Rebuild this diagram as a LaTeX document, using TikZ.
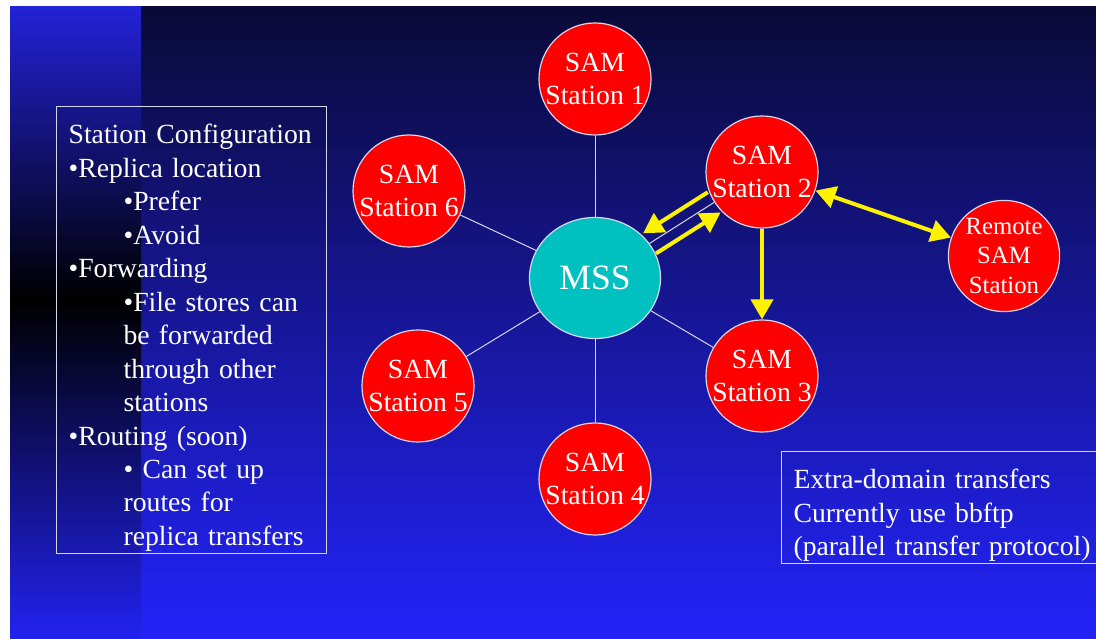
\documentclass[tikz,border=0pt]{standalone}
\usepackage{fontspec}
\setmainfont{Liberation Serif}
\usepackage{tikz}
\usetikzlibrary{arrows.meta}
\usetikzlibrary{shapes.geometric}

\definecolor{slidetop}{RGB}{10,10,56}
\definecolor{slidemid}{RGB}{22,22,140}
\definecolor{slidebot}{RGB}{35,35,250}
\definecolor{striptop}{RGB}{34,34,215}
\definecolor{stripbot}{RGB}{34,34,240}
\definecolor{mssteal}{RGB}{0,192,192}
\definecolor{rim}{RGB}{215,215,235}

\tikzset{
  station/.style={shape=circle,draw=rim,line width=0.03cm,fill=red,text=white,
    minimum size=2.8cm,inner sep=0pt,align=center,
    font=\fontsize{19.7pt}{23.8pt}\selectfont},
  hub/.style={shape=ellipse,draw=rim,line width=0.03cm,fill=mssteal,text=white,
    minimum width=3.275cm,minimum height=3.025cm,inner sep=0pt,
    font=\fontsize{25.3pt}{30pt}\selectfont},
  link/.style={draw=rim,line width=0.025cm},
  yarrow/.style={draw=yellow,line width=0.1cm},
  infobox/.style={draw=rim,line width=0.03cm,text=white,align=left,anchor=north west,
    inner xsep=0.3cm,inner ysep=0pt,font=\fontsize{19.7pt}{23.8pt}\selectfont}
}
\newcommand{\ind}{\hspace*{1.375cm}}
\newcommand{\topgap}{\rule{0pt}{0.87cm}}

\begin{document}
\begin{tikzpicture}[x=0.025cm,y=0.025cm,>={Triangle[length=0.5cm,width=0.55cm]}]
\useasboundingbox (0,0) rectangle (1096,638);
\clip (0,0) rectangle (1096,638);
% slide background
\fill [white] (0,0) rectangle (1096,638);
\shade [top color=slidetop,middle color=slidemid,bottom color=slidebot] (10,0) rectangle (1096,631);
\shade [top color=striptop,bottom color=black] (10,338) rectangle (141,631);
\shade [top color=black,bottom color=stripbot] (10,0) rectangle (141,338);

% stations
\node (mss) at (595,360) [hub] {\raisebox{-0.1cm}{MSS}};
\node (st1) at (595,559) [station] {SAM\\Station 1};
\node (st2) at (762,466) [station] {SAM\\Station 2};
\node (st3) at (762,262) [station] {SAM\\Station 3};
\node (st4) at (595,159) [station] {SAM\\Station 4};
\node (st5) at (418,252) [station] {SAM\\Station 5};
\node (st6) at (409,447) [station] {SAM\\Station 6};
\node (remote) at (1004,382) [station,minimum size=2.78cm,
  font=\fontsize{17.6pt}{21.3pt}\selectfont] {Remote\\SAM\\Station};

\foreach \s in {st1,st2,st3,st4,st5,st6}
  \draw [link] (mss) -- (\s);

% transfers
\draw [yarrow,->,transform canvas={shift={(-0.16cm,0.253cm)}}] (st2) -- (mss);
\draw [yarrow,->,transform canvas={shift={(0.16cm,-0.253cm)}}] (mss) -- (st2);
\draw [yarrow,->] (st2) -- (st3);
\draw [yarrow,<->] (st2) -- (remote);

% text boxes
\node (config) at (56,532) [infobox,minimum height=11.175cm,text width=6.15cm] {%
\topgap Station Configuration\\
•Replica location\\
\ind•Prefer\\
\ind•Avoid\\
•Forwarding\\
\ind•File stores can\\
\ind be forwarded\\
\ind through other\\
\ind stations\\
•Routing (soon)\\
\ind• Can set up\\
\ind routes for\\
\ind replica transfers};
\node (extra) at (781,187) [infobox,minimum height=2.8cm,text width=8.5cm] {%
\topgap Extra-domain transfers\\
Currently use bbftp\\
(parallel transfer protocol)};
\end{tikzpicture}
\end{document}
